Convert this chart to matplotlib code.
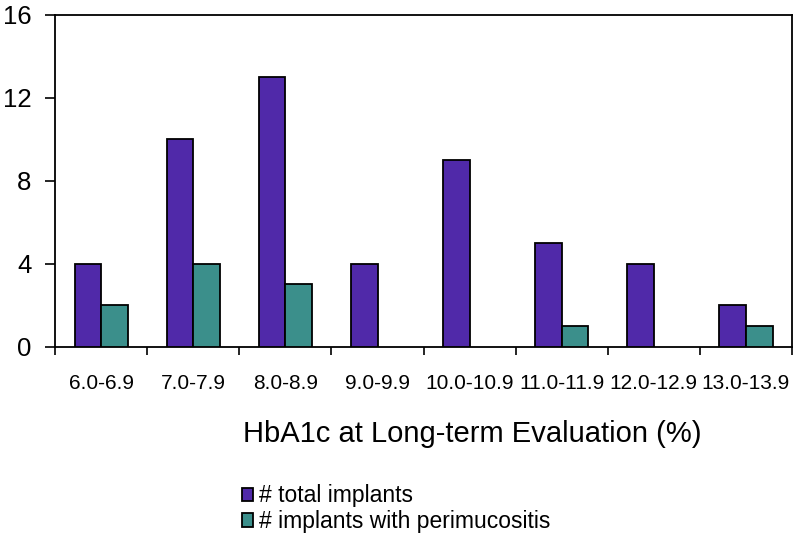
import numpy as np
import matplotlib
matplotlib.use('Agg')
import matplotlib.pyplot as plt
from matplotlib.patches import Patch

plt.rcParams['font.family'] = ['Liberation Sans', 'DejaVu Sans']

# data
ranges = ['6.0-6.9', '7.0-7.9', '8.0-8.9', '9.0-9.9', '10.0-10.9',
          '11.0-11.9', '12.0-12.9', '13.0-13.9']
total = [4, 10, 13, 4, 9, 5, 4, 2]
perimucositis = [2, 4, 3, 0, 0, 1, 0, 1]

purple = '#5029A9'
teal = '#3B8F8B'

fig = plt.figure(figsize=(8, 5.4), dpi=100)
ax = fig.add_axes([0.069, 0.358, 0.921, 0.615])

x = np.arange(len(ranges)) + 0.5
w = 0.29
ax.bar(x - w / 2, total, w, color=purple, edgecolor='black', linewidth=1.3, zorder=3)
pm = np.array(perimucositis)
ax.bar(x[pm > 0] + w / 2, pm[pm > 0], w, color=teal, edgecolor='black', linewidth=1.3, zorder=3)

ax.set_xlim(0, len(ranges))
ax.set_ylim(0, 16)
ax.set_yticks([0, 4, 8, 12, 16])
ax.tick_params(axis='y', labelsize=18.5, length=7, width=1.2, direction='out', pad=10)

# boundary ticks, centred labels
ax.set_xticks(np.arange(len(ranges) + 1))
ax.set_xticklabels([])
ax.tick_params(axis='x', which='major', length=6, width=1.2, direction='out')
ax.set_xticks(x, minor=True)
ax.set_xticklabels(ranges, minor=True, fontsize=15)
ax.tick_params(axis='x', which='minor', length=0, pad=20)

for s in ax.spines.values():
    s.set_linewidth(1.3)

fig.text(0.59, 0.197, 'HbA1c at Long-term Evaluation (%)', fontsize=21, ha='center', va='center')

handles = [Patch(facecolor=purple, edgecolor='black', linewidth=1.3, label='# total implants'),
           Patch(facecolor=teal, edgecolor='black', linewidth=1.3, label='# implants with perimucositis')]
fig.legend(handles=handles, loc='upper left', bbox_to_anchor=(0.302, 0.103),
           frameon=False, fontsize=16.5, handlelength=0.5, handleheight=0.5,
           handletextpad=0.25, labelspacing=0.12, borderaxespad=0, borderpad=0)

fig.savefig('out.png', dpi=100)
